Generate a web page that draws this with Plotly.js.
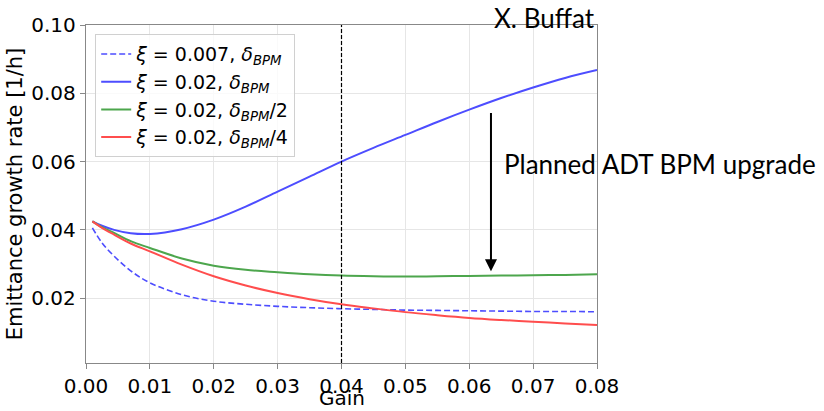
<!DOCTYPE html>
<html>
<head>
<meta charset="utf-8">
<script src="https://cdn.plot.ly/plotly-3.0.1.min.js"></script>
<style>html,body{margin:0;padding:0;background:#fff;}#chart{width:824px;height:411px;}</style>
</head>
<body>
<div id="chart"></div>
<script>
// Gain values (x)
const gain = [0.001, 0.0025, 0.0044, 0.007, 0.01, 0.015, 0.02, 0.025, 0.03, 0.035, 0.04, 0.045, 0.05, 0.055, 0.06, 0.065, 0.07, 0.075, 0.08];
// xi = 0.007, delta_BPM (dashed blue)
const xi007_bpm = [0.0406, 0.0362, 0.0323, 0.0280, 0.0245, 0.0210, 0.0191, 0.0182, 0.0176, 0.0172, 0.0169, 0.0167, 0.0165, 0.0164, 0.0163, 0.0162, 0.0161, 0.0161, 0.0160];
// xi = 0.02, delta_BPM (solid blue)
const xi02_bpm = [0.0425, 0.0412, 0.0400, 0.0390, 0.0388, 0.0402, 0.0430, 0.0468, 0.0512, 0.0556, 0.0600, 0.0640, 0.0678, 0.0716, 0.0752, 0.0786, 0.0817, 0.0845, 0.0868];
// xi = 0.02, delta_BPM/2 (green)
const xi02_bpm2 = [0.0425, 0.0408, 0.0391, 0.0367, 0.0347, 0.0316, 0.0295, 0.0283, 0.0276, 0.0270, 0.0266, 0.0264, 0.0263, 0.0264, 0.0265, 0.0266, 0.0267, 0.0268, 0.0270];
// xi = 0.02, delta_BPM/4 (red)
const xi02_bpm4 = [0.0425, 0.0406, 0.0386, 0.0360, 0.0337, 0.0298, 0.0264, 0.0237, 0.0215, 0.0197, 0.0182, 0.0170, 0.0159, 0.0150, 0.0142, 0.0136, 0.0131, 0.0126, 0.0121];

const seriesNames = [
  '<i>ξ</i> = 0.007, <i>δ</i><sub><i>BPM</i></sub>',
  '<i>ξ</i> = 0.02, <i>δ</i><sub><i>BPM</i></sub>',
  '<i>ξ</i> = 0.02, <i>δ</i><sub><i>BPM</i></sub>/2',
  '<i>ξ</i> = 0.02, <i>δ</i><sub><i>BPM</i></sub>/4'
];

const xTicks = [0, 0.01, 0.02, 0.03, 0.04, 0.05, 0.06, 0.07, 0.08];
const xTickText = ['0.00', '0.01', '0.02', '0.03', '0.04', '0.05', '0.06', '0.07', '0.08'];
const yTicks = [0.02, 0.04, 0.06, 0.08, 0.10];
const yTickText = ['0.02', '0.04', '0.06', '0.08', '0.10'];

const operatingGain = 0.04;
const arrowX = 0.0634, arrowFrom = 0.0747, arrowTo = 0.0279;
const noteX = 0.0652, noteY = 0.0594;

const traces = [
  {x: gain, y: xi007_bpm, name: seriesNames[0], mode: 'lines', line: {color: '#4d4dff', width: 1.6, dash: '6px,3px', shape: 'spline'}},
  {x: gain, y: xi02_bpm, name: seriesNames[1], mode: 'lines', line: {color: '#4d4dff', width: 2, shape: 'spline'}},
  {x: gain, y: xi02_bpm2, name: seriesNames[2], mode: 'lines', line: {color: '#4da64d', width: 2, shape: 'spline'}},
  {x: gain, y: xi02_bpm4, name: seriesNames[3], mode: 'lines', line: {color: '#ff4d4d', width: 2, shape: 'spline'}}
];

const axisCommon = {
  showline: true, linecolor: '#888', linewidth: 1.2, mirror: true,
  ticks: 'outside', ticklen: 5, tickcolor: '#888', tickwidth: 1,
  showgrid: true, gridcolor: '#e6e6e6', gridwidth: 1,
  zeroline: false, tickfont: {size: 20, color: '#000'}, automargin: false
};

const layout = {
  width: 824, height: 411,
  margin: {l: 86, r: 227, t: 25, b: 48},
  paper_bgcolor: '#fff', plot_bgcolor: '#fff',
  font: {family: 'DejaVu Sans', color: '#000', size: 20},
  xaxis: Object.assign({}, axisCommon, {
    range: [0, 0.08], tickvals: xTicks, ticktext: xTickText,
    title: {text: ''}
  }),
  yaxis: Object.assign({}, axisCommon, {
    range: [0.001, 0.1], tickvals: yTicks, ticktext: yTickText,
    title: {text: 'Emittance growth rate [1/h]', font: {size: 21}, standoff: 3}
  }),
  showlegend: true,
  legend: {
    x: 0.018, y: 0.973, xanchor: 'left', yanchor: 'top',
    bgcolor: 'rgba(255,255,255,0.8)', bordercolor: '#d0d0d0', borderwidth: 1,
    font: {size: 19, family: 'DejaVu Sans'}, tracegroupgap: 0
  },
  shapes: [
    {type: 'line', xref: 'x', yref: 'paper', x0: operatingGain, x1: operatingGain, y0: 0, y1: 1,
     line: {color: '#000', width: 1.2, dash: '4px,2px'}}
  ],
  annotations: [
    {x: 0.5, y: -0.142, xref: 'paper', yref: 'paper', xanchor: 'center', yanchor: 'bottom', showarrow: false,
     text: 'Gain', font: {size: 20, color: '#000'}, borderpad: 0},
    {x: arrowX, y: arrowTo, xref: 'x', yref: 'y', ax: arrowX, ay: arrowFrom, axref: 'x', ayref: 'y',
     text: '', showarrow: true, arrowhead: 2, arrowsize: 1.2, arrowwidth: 2, arrowcolor: '#000', standoff: 0},
    {x: noteX, y: noteY, xref: 'x', yref: 'y', xanchor: 'left', yanchor: 'middle', showarrow: false,
     text: 'Planned ADT BPM upgrade', font: {family: 'Lato', size: 26, color: '#000'}},
    {x: 1, y: 1.02, xref: 'paper', yref: 'paper', xanchor: 'right', yanchor: 'middle', showarrow: false,
     text: 'X. Buffat', font: {family: 'Lato', size: 26, color: '#000'}}
  ]
};

Plotly.newPlot('chart', traces, layout, {staticPlot: true, displayModeBar: false});
</script>
</body>
</html>
